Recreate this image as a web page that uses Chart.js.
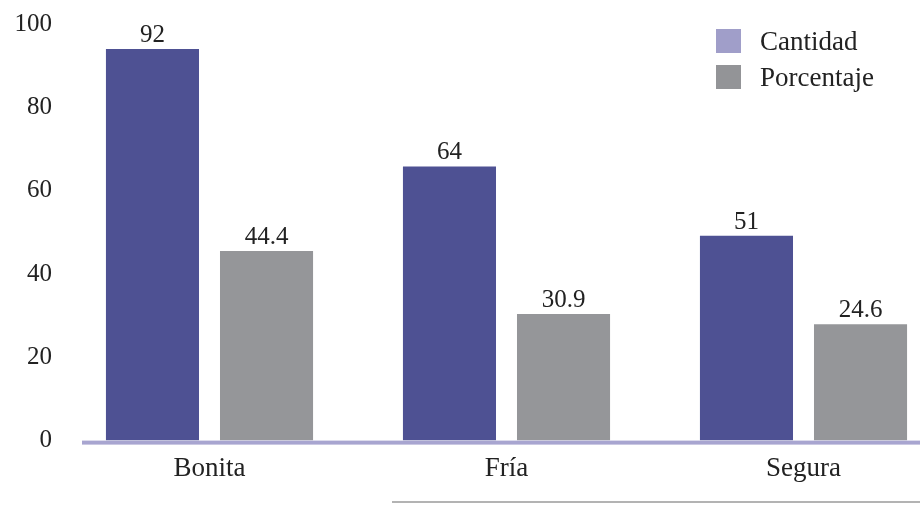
<!DOCTYPE html>
<html>
<head>
<meta charset="utf-8">
<script src="https://cdn.jsdelivr.net/npm/chart.js@4"></script>
<style>
  html, body { margin: 0; padding: 0; overflow: hidden; background: #fff; }
  #wrap { position: relative; width: 952px; height: 506px; }
  .legend { position: absolute; left: 716px; font: 27px "Liberation Serif", serif; color: #222; }
  .legend span.box { position: absolute; left: 0; width: 25px; height: 24px; }
  .legend span.txt { position: absolute; left: 44px; white-space: nowrap; line-height: 24px; }
  #baseLine { position: absolute; left: 392px; top: 501px; width: 540px; height: 2px; background: #b3b3b3; }
</style>
</head>
<body>
<div id="wrap">
  <canvas id="bars"></canvas>
  <div class="legend" style="top:29px"><span class="box" style="background:#a09ec9"></span><span class="txt">Cantidad</span></div>
  <div class="legend" style="top:65px"><span class="box" style="background:#939497"></span><span class="txt">Porcentaje</span></div>
  <div id="baseLine"></div>
</div>
<script>
// categories and values
const categories = ['Bonita', 'Fría', 'Segura'];
// bar heights as drawn
const cantidad = [94, 65.8, 49.2];
const porcentaje = [45.5, 30.4, 27.9];
// numbers printed above the bars
const cantidadText = ['92', '64', '51'];
const porcentajeText = ['44.4', '30.9', '24.6'];
const yTicks = [0, 20, 40, 60, 80, 100];

const serif = '"Liberation Serif", serif';

// draws printed numbers over each bar
const valueLabels = {
  id: 'valueLabels',
  afterDatasetsDraw(chart) {
    const ctx = chart.ctx;
    const texts = [cantidadText, porcentajeText];
    ctx.save();
    ctx.font = '25px ' + serif;
    ctx.fillStyle = '#222';
    ctx.textAlign = 'center';
    ctx.textBaseline = 'alphabetic';
    chart.data.datasets.forEach((ds, i) => {
      chart.getDatasetMeta(i).data.forEach((bar, j) => {
        ctx.fillText(texts[i][j], bar.x, bar.y - 7);
      });
    });
    ctx.restore();
  }
};

// lavender base line under the bars
const zeroLine = {
  id: 'zeroLine',
  afterDraw(chart) {
    const ctx = chart.ctx;
    const y0 = chart.scales.y.getPixelForValue(0);
    ctx.save();
    ctx.fillStyle = '#a8a5d0';
    ctx.fillRect(chart.chartArea.left + 21, y0, chart.chartArea.right - chart.chartArea.left, 4);
    ctx.restore();
  }
};

new Chart(document.getElementById('bars'), {
  type: 'bar',
  data: {
    labels: categories,
    datasets: [
      { label: 'Cantidad', data: cantidad, backgroundColor: '#4e5193' },
      { label: 'Porcentaje', data: porcentaje, backgroundColor: '#959699' }
    ]
  },
  options: {
    responsive: true,
    maintainAspectRatio: false,
    animation: false,
    categoryPercentage: 0.768,
    barPercentage: 0.816,
    layout: { padding: { top: 24, right: 0, bottom: 9, left: 0 } },
    plugins: {
      legend: { display: false },
      tooltip: { enabled: false }
    },
    scales: {
      x: {
        grid: { display: false, drawTicks: false },
        border: { display: false },
        ticks: { color: '#222', font: { family: serif, size: 27 }, padding: 12, maxRotation: 0 }
      },
      y: {
        min: 0,
        max: 100,
        afterFit(scale) { scale.width = 61; },
        afterBuildTicks(scale) { scale.ticks = yTicks.map(v => ({ value: v })); },
        grid: { display: false, drawTicks: false },
        border: { display: false },
        ticks: { color: '#222', font: { family: serif, size: 25 }, padding: 9 }
      }
    }
  },
  plugins: [valueLabels, zeroLine]
});
</script>
</body>
</html>
